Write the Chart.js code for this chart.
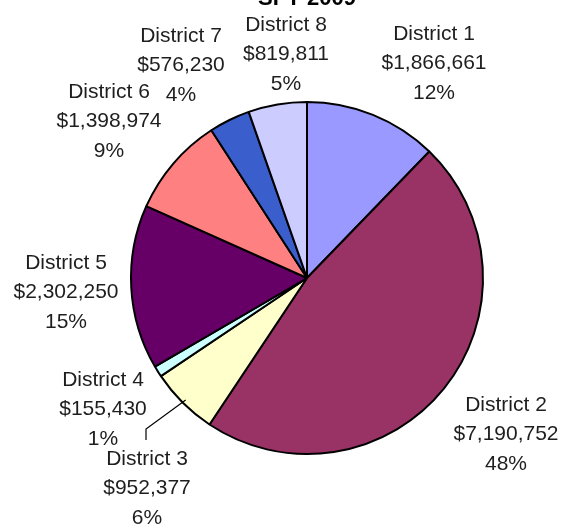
<!DOCTYPE html>
<html>
<head>
<meta charset="utf-8">
<script src="https://cdn.jsdelivr.net/npm/chart.js@4/dist/chart.umd.min.js"></script>
<style>
  html, body { margin: 0; padding: 0; background: #ffffff; }
  #wrap { width: 573px; height: 529px; }
</style>
</head>
<body>
<div id="wrap"><canvas id="chart" width="573" height="529"></canvas></div>
<script>
// SFY 2009 funding by district
const districts = ['District 1', 'District 2', 'District 3', 'District 4',
                   'District 5', 'District 6', 'District 7', 'District 8'];
const amounts = [1866661, 7190752, 952377, 155430, 2302250, 1398974, 576230, 819811];
const shareLabels = ['12%', '48%', '6%', '1%', '15%', '9%', '4%', '5%'];
const sliceColors = ['#9999FF', '#993366', '#FFFFCC', '#CCFFFF',
                     '#660066', '#FF8080', '#3A5FCD', '#CCCCFF'];
const chartTitle = 'SFY 2009';

// Where each three-line label block sits (centre x, centre of first line y)
const labelPlacement = [
  { x: 434, y: 32 },
  { x: 506, y: 403 },
  { x: 147, y: 457, leader: true },
  { x: 103, y: 378 },
  { x: 66,  y: 261 },
  { x: 109, y: 90 },
  { x: 181, y: 34 },
  { x: 286, y: 23 }
];

function money(v) {
  return '$' + v.toLocaleString('en-US');
}

const labelPlugin = {
  id: 'districtLabels',
  afterDraw(chart) {
    const ctx = chart.ctx;
    const meta = chart.getDatasetMeta(0);
    ctx.save();

    // title, mostly above the top edge of the canvas
    ctx.fillStyle = '#000';
    ctx.font = 'bold 22px "Liberation Sans", Arial, sans-serif';
    ctx.textAlign = 'center';
    ctx.textBaseline = 'alphabetic';
    ctx.fillText(chartTitle, 307, 5);

    ctx.font = '21px "Liberation Sans", Arial, sans-serif';
    ctx.fillStyle = '#1e1e1e';
    const lineGap = 29.5;
    const capHalf = 7.5;

    districts.forEach((name, i) => {
      const p = labelPlacement[i];
      const lines = [name, money(amounts[i]), shareLabels[i]];
      lines.forEach((t, k) => {
        ctx.fillText(t, p.x, p.y + k * lineGap + capHalf);
      });

      if (p.leader) {
        const arc = meta.data[i];
        const mid = (arc.startAngle + arc.endAngle) / 2;
        const sx = arc.x + Math.cos(mid) * (arc.outerRadius - 4);
        const sy = arc.y + Math.sin(mid) * (arc.outerRadius - 4);
        ctx.strokeStyle = '#000';
        ctx.lineWidth = 1.2;
        ctx.beginPath();
        ctx.moveTo(sx, sy);
        ctx.lineTo(p.x - 1, p.y - 28);
        ctx.lineTo(p.x - 1, p.y - 17);
        ctx.stroke();
      }
    });
    ctx.restore();
  }
};

new Chart(document.getElementById('chart'), {
  type: 'pie',
  data: {
    labels: districts,
    datasets: [{
      data: amounts,
      backgroundColor: sliceColors,
      borderColor: '#000000',
      borderWidth: 2,
      hoverOffset: 0,
      offset: 0
    }]
  },
  options: {
    responsive: false,
    devicePixelRatio: 1,
    animation: false,
    layout: { padding: { left: 130, top: 101, right: 89, bottom: 74 } },
    plugins: {
      legend: { display: false },
      tooltip: { enabled: false },
      title: { display: false }
    },
    events: []
  },
  plugins: [labelPlugin]
});
</script>
</body>
</html>
